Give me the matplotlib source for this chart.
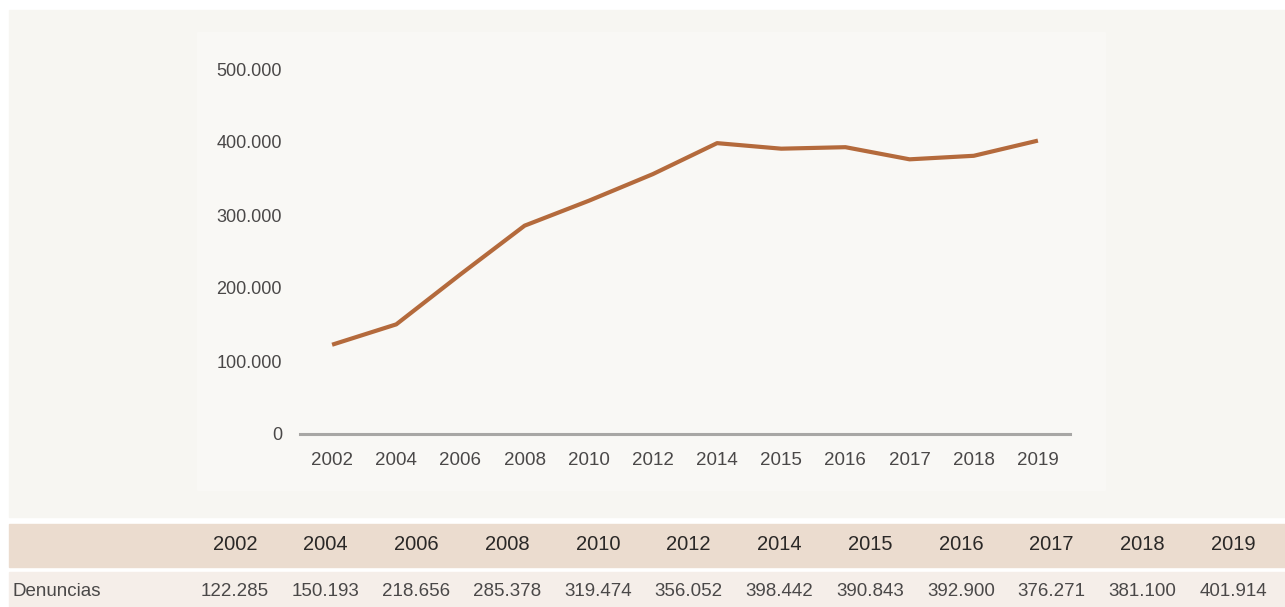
import matplotlib.pyplot as plt
from matplotlib.patches import Rectangle

years = ["2002", "2004", "2006", "2008", "2010", "2012", "2014", "2015", "2016", "2017", "2018", "2019"]
denuncias = [122285, 150193, 218656, 285378, 319474, 356052, 398442, 390843, 392900, 376271, 381100, 401914]
yticks = [0, 100000, 200000, 300000, 400000, 500000]
row_label = "Denuncias"

W, H = 1285, 607


def fmt(v):
    return f"{v:,}".replace(",", ".")


def box(fig, x0, y0, x1, y1, color):
    # pixel coords from top-left
    fig.patches.append(Rectangle((x0 / W, 1 - y1 / H), (x1 - x0) / W, (y1 - y0) / H,
                                 transform=fig.transFigure, color=color, zorder=-5))


plt.rcParams["font.family"] = ["Liberation Sans", "DejaVu Sans"]

fig = plt.figure(figsize=(W / 100, H / 100), dpi=100)
fig.patch.set_facecolor("white")
box(fig, 9, 10, W, 517, "#f7f6f2")
box(fig, 197, 32, 1105, 490, "#f9f8f5")
box(fig, 9, 524, W, 567, "#ebdccf")
box(fig, 9, 572, W, H, "#f5eee9")

ax = fig.add_axes([300 / W, 1 - 434 / H, 770 / W, (434 - 69) / H], zorder=2)
ax.patch.set_alpha(0)
x = list(range(len(years)))
ax.plot(x, denuncias, color="#b46a3c", lw=3.0, solid_capstyle="butt", clip_on=False)
ax.set_xlim(-0.5, len(years) - 0.5)
ax.set_ylim(0, 500000)
ax.set_xticks(x)
ax.set_xticklabels(years)
ax.set_yticks(yticks)
ax.set_yticklabels([fmt(v) for v in yticks])
for s in ["top", "right", "left"]:
    ax.spines[s].set_visible(False)
ax.spines["bottom"].set_color("#a8a7a5")
ax.spines["bottom"].set_linewidth(2.2)
ax.tick_params(axis="both", length=0, labelsize=13, labelcolor="#4a4848")
ax.tick_params(axis="x", labelsize=13.5, pad=13)
ax.tick_params(axis="y", pad=13)

# table below the chart
for i, (yr, v) in enumerate(zip(years, denuncias)):
    cx = 235 + i * (1233 - 235) / 11
    fig.text(cx / W, 1 - 545 / H, yr, ha="center", va="center", fontsize=14.5, color="#2a2827", zorder=3)
    fig.text(cx / W, 1 - 591 / H, fmt(v), ha="center", va="center", fontsize=13.5, color="#4a4848", zorder=3)
fig.text(12 / W, 1 - 591 / H, row_label, ha="left", va="center", fontsize=13.5, color="#4a4848", zorder=3)

fig.savefig("out.png", dpi=100)
